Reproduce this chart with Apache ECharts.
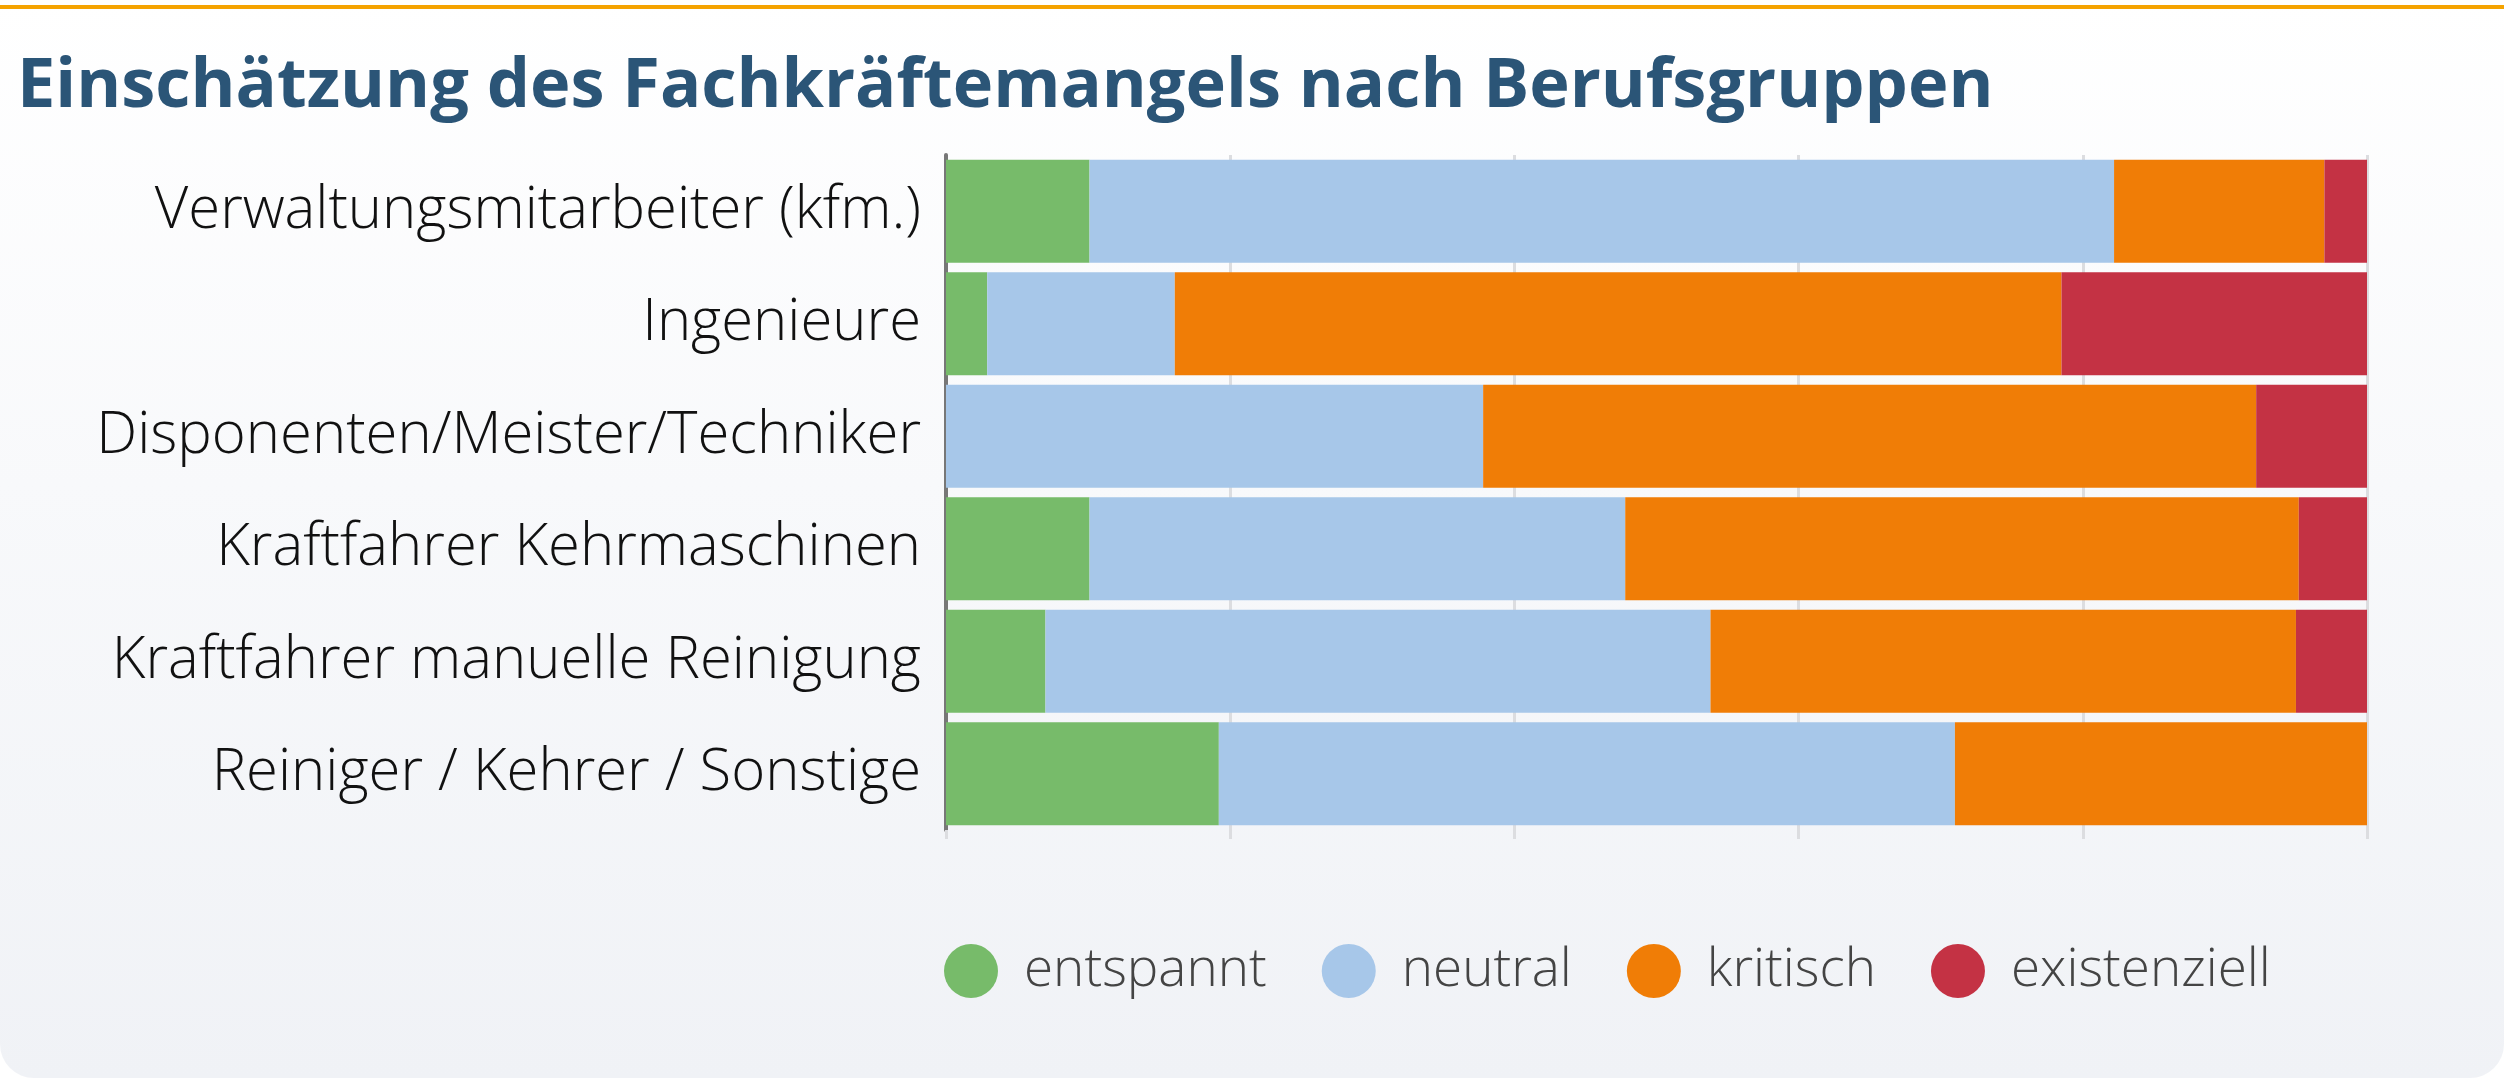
<!DOCTYPE html>
<html>
<head>
<meta charset="utf-8">
<script src="https://cdn.jsdelivr.net/npm/echarts@6/dist/echarts.min.js"></script>
<style>
html,body{margin:0;padding:0;background:#ffffff;width:2504px;height:1081px;overflow:hidden;}
#card{position:absolute;left:0;top:0;width:2504px;height:1078px;border-radius:0 0 34px 34px;
background:linear-gradient(to bottom,#ffffff 0%,#f8f9fb 45%,#f0f2f6 100%);}
#topline{position:absolute;left:0;top:5px;width:2504px;height:4px;background:#f5a300;}
#chart{position:absolute;left:0;top:0;width:2504px;height:1081px;}
</style>
</head>
<body>
<div id="card"></div>
<div id="topline"></div>
<div id="chart"></div>
<script>
var categories = ["Verwaltungsmitarbeiter (kfm.)", "Ingenieure", "Disponenten/Meister/Techniker", "Kraftfahrer Kehrmaschinen", "Kraftfahrer manuelle Reinigung", "Reiniger / Kehrer / Sonstige"];
var seriesNames = ["entspannt", "neutral", "kritisch", "existenziell"];
var entspannt = [10.1, 2.9, 0, 10.1, 7.0, 19.2];
var neutral = [72.1, 13.2, 37.8, 37.7, 46.8, 51.8];
var kritisch = [14.8, 62.4, 54.4, 47.4, 41.2, 29.0];
var existenziell = [3.0, 21.5, 7.8, 4.8, 5.0, 0];
var colors = ["#77bb6a", "#a7c7e9", "#f07d06", "#c43244"];

var chart = echarts.init(document.getElementById('chart'), null, {renderer: 'canvas'});
var values = [entspannt, neutral, kritisch, existenziell];
var series = seriesNames.map(function (n, i) {
  return {
    name: n, type: 'bar', stack: 'total', data: values[i],
    barCategoryGap: '8.5%',
    itemStyle: {color: colors[i]},
    emphasis: {disabled: true}
  };
});
chart.setOption({
  animation: false,
  color: colors,
  title: {
    text: 'Einschätzung des Fachkräftemangels nach Berufsgruppen',
    left: 12, top: 48,
    textStyle: {fontFamily: 'Open Sans', fontWeight: 'bold', fontSize: 68.5, color: '#2b5577'}
  },
  grid: {left: 946, right: 137, top: 155, bottom: 251, containLabel: false},
  xAxis: {
    type: 'value', min: 0, max: 100, interval: 20,
    axisLine: {show: false},
    axisTick: {show: true, length: 9, lineStyle: {color: '#dcdde0', width: 3}},
    axisLabel: {show: false},
    splitLine: {show: true, lineStyle: {color: '#dcdde0', width: 3}}
  },
  yAxis: {
    type: 'category', data: categories, inverse: true,
    axisLine: {show: true, lineStyle: {color: '#777777', width: 4}},
    axisTick: {show: false},
    axisLabel: {margin: 25, fontFamily: 'Open Sans', fontWeight: 300, fontSize: 58, color: '#111111'}
  },
  legend: {
    data: seriesNames, left: 944, top: 944, padding: 0,
    icon: 'circle', itemWidth: 54, itemHeight: 54, itemGap: 55,
    textStyle: {fontFamily: 'Open Sans', fontWeight: 300, fontSize: 53, color: '#444444', padding: [0, 0, 0, 21]}
  },
  series: series
});
</script>
</body>
</html>
